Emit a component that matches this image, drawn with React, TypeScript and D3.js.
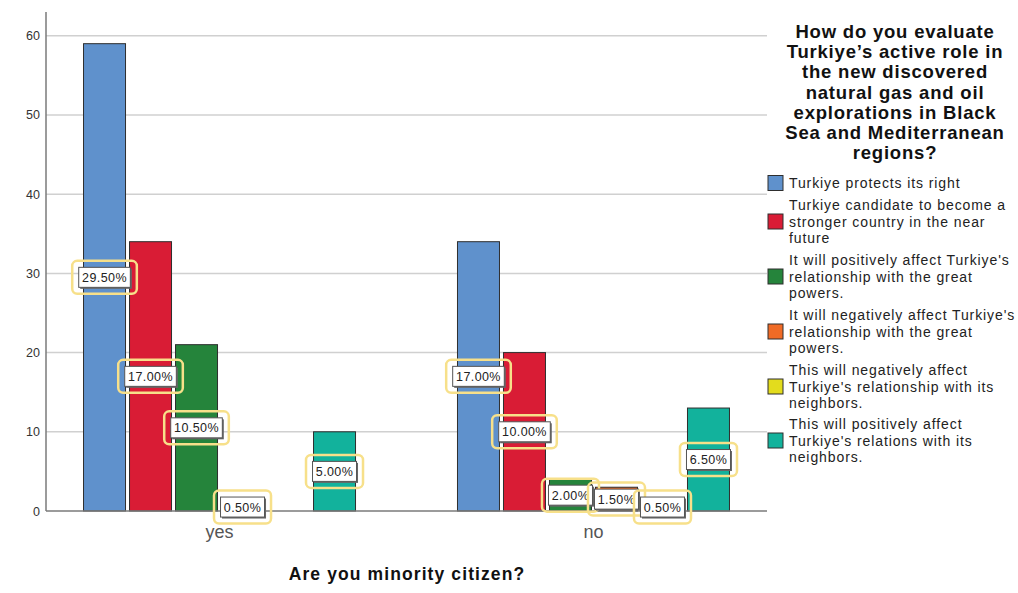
import React from "react";
import * as d3 from "d3";

// Grouped bar chart: answer counts by minority status, labelled with share of all respondents.
const categories = ["yes", "no"];
const seriesNames = [
  "Turkiye protects its right",
  "Turkiye candidate to become a stronger country in the near future",
  "It will positively affect Turkiye's relationship with the great powers.",
  "It will negatively affect Turkiye's relationship with the great powers.",
  "This will negatively affect Turkiye's relationship with its neighbors.",
  "This will positively affect Turkiye's relations with its neighbors.",
];
const legendLines = [
  ["Turkiye protects its right"],
  ["Turkiye candidate to become a", "stronger country in the near", "future"],
  ["It will positively affect Turkiye's", "relationship with the great", "powers."],
  ["It will negatively affect Turkiye's", "relationship with the great", "powers."],
  ["This will negatively affect", "Turkiye's relationship with its", "neighbors."],
  ["This will positively affect", "Turkiye's relations with its", "neighbors."],
];
const seriesColors = ["#5f91cc", "#d91c35", "#25843b", "#f06b26", "#e3dc1d", "#12b29c"];
const yesCounts = [59, 34, 21, 1, 0, 10];
const noCounts = [34, 20, 4, 3, 1, 13];
const yTicks = [0, 10, 20, 30, 40, 50, 60];
const titleLines = [
  "How do you evaluate",
  "Turkiye\u2019s active role in",
  "the new discovered",
  "natural gas and oil",
  "explorations in Black",
  "Sea and Mediterranean",
  "regions?",
];
const xTitle = "Are you minority citizen?";

const FONT = "'Liberation Sans', Arial, sans-serif";

export default function App() {
  const width = 1018;
  const height = 593;
  const left = 46;
  const right = 767;
  const bottom = 511;
  const top = 12;

  const countsByCat = [yesCounts, noCounts];
  const total = d3.sum(yesCounts) + d3.sum(noCounts);

  const x = d3.scalePoint<string>().domain(categories).range([left, right]).padding(0.464);
  const inner = d3
    .scaleBand<number>()
    .domain(d3.range(seriesNames.length))
    .range([-138, 138])
    .paddingInner(0.087)
    .paddingOuter(0.0435);
  const y = d3.scaleLinear().domain([0, 63]).range([bottom, top]);
  const fmt = d3.format(".2f");

  const bars: React.ReactNode[] = [];
  const labels: React.ReactNode[] = [];
  categories.forEach((cat, ci) => {
    countsByCat[ci].forEach((v, si) => {
      if (v <= 0) return;
      const bx = (x(cat) as number) + (inner(si) as number);
      const bw = inner.bandwidth();
      bars.push(
        <rect
          key={`b-${cat}-${si}`}
          x={bx}
          y={y(v)}
          width={bw}
          height={bottom - y(v)}
          fill={seriesColors[si]}
          stroke="#2e2e2e"
          strokeWidth={1}
        />
      );
      const text = `${fmt((v / total) * 100)}%`;
      const cx = bx + bw / 2;
      const cy = y(v / 2);
      const tw = text.length * 7.6 + 6;
      const th = 20;
      labels.push(
        <g key={`l-${cat}-${si}`}>
          <rect
            x={cx - tw / 2 - 6.5}
            y={cy - th / 2 - 6.5}
            width={tw + 13}
            height={th + 13}
            rx={5}
            fill="none"
            stroke="#f7e08a"
            strokeWidth={2.5}
          />
          <rect x={cx - tw / 2 + 1.5} y={cy - th / 2 + 1.5} width={tw} height={th} fill="#666" />
          <rect
            x={cx - tw / 2}
            y={cy - th / 2}
            width={tw}
            height={th}
            fill="#fff"
            stroke="#555"
            strokeWidth={1}
          />
          <text
            x={cx}
            y={cy + 4.5}
            textAnchor="middle"
            fontSize={12.5}
            letterSpacing={0.4}
            fill="#222"
            fontFamily={FONT}
          >
            {text}
          </text>
        </g>
      );
    });
  });

  // legend layout
  const lineH = 16.5;
  const legendStarts = [183, 205, 260, 315, 370, 424];

  return (
    <svg
      width={width}
      height={height}
      style={{ position: "absolute", left: 0, top: 0, background: "#fff" }}
      fontFamily={FONT}
    >
      {/* gridlines */}
      {yTicks
        .filter((t) => t > 0)
        .map((t) => (
          <line key={`g${t}`} x1={left} x2={right} y1={y(t)} y2={y(t)} stroke="#d0d0d0" strokeWidth={1.5} />
        ))}
      {yTicks.map((t) => (
        <text key={`t${t}`} x={40} y={y(t) + 4.5} textAnchor="end" fontSize={12.5} fill="#333">
          {t}
        </text>
      ))}
      {bars}
      {/* axes */}
      <line x1={left} x2={left} y1={top} y2={bottom} stroke="#7a7a7a" strokeWidth={1.5} />
      <line x1={left} x2={right} y1={bottom} y2={bottom} stroke="#7a7a7a" strokeWidth={1.5} />
      {labels}
      {categories.map((c) => (
        <text key={c} x={x(c) as number} y={538} textAnchor="middle" fontSize={18} fill="#555">
          {c}
        </text>
      ))}
      <text x={407} y={580} textAnchor="middle" fontSize={17.5} letterSpacing={1.1} fontWeight="bold" fill="#111">
        {xTitle}
      </text>
      {/* legend title */}
      {titleLines.map((l, i) => (
        <text
          key={`tt${i}`}
          x={895}
          y={38 + i * 20.2}
          textAnchor="middle"
          fontSize={18.5}
          letterSpacing={0.8}
          fontWeight="bold"
          fill="#111"
        >
          {l}
        </text>
      ))}
      {legendLines.map((lines, i) => {
        const y0 = legendStarts[i];
        const mid = y0 + ((lines.length - 1) * lineH) / 2;
        return (
          <g key={`lg${i}`}>
            <rect
              x={768}
              y={mid - 7.5}
              width={15}
              height={15}
              fill={seriesColors[i]}
              stroke="#2e2e2e"
              strokeWidth={1}
            />
            {lines.map((ln, j) => (
              <text key={j} x={789} y={y0 + j * lineH + 5} fontSize={14} letterSpacing={0.9} fill="#222">
                {ln}
              </text>
            ))}
          </g>
        );
      })}
    </svg>
  );
}
